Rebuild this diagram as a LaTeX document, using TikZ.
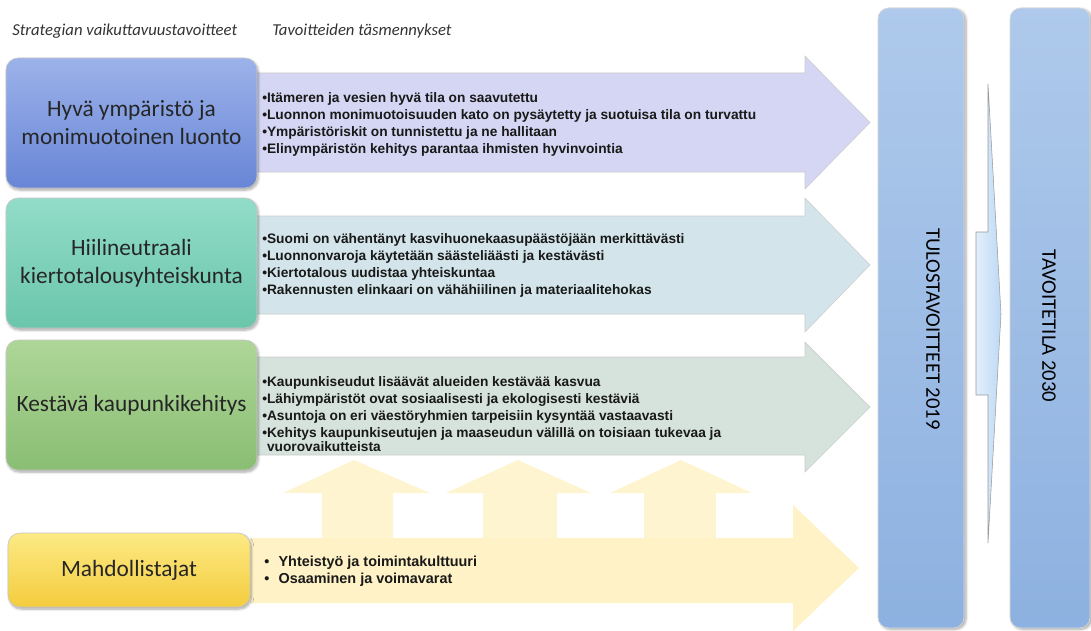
\documentclass[tikz,border=0pt]{standalone}
\usepackage{fontspec}
\setmainfont{Carlito}
\newfontfamily\bulletfont{Liberation Sans}
\usepackage{tikz}
\usetikzlibrary{shadows.blur}
\usetikzlibrary{positioning}

\definecolor{blueTop}{RGB}{156,178,234}
\definecolor{blueBot}{RGB}{104,134,214}
\definecolor{tealTop}{RGB}{146,220,200}
\definecolor{tealBot}{RGB}{106,198,170}
\definecolor{greenTop}{RGB}{174,214,152}
\definecolor{greenBot}{RGB}{138,190,116}
\definecolor{yellowTop}{RGB}{252,234,132}
\definecolor{yellowBot}{RGB}{244,204,62}
\definecolor{arrowBlue}{RGB}{213,214,243}
\definecolor{arrowTeal}{RGB}{211,229,234}
\definecolor{arrowGreen}{RGB}{214,226,220}
\definecolor{arrowYellow}{RGB}{254,242,198}
\definecolor{barTop}{RGB}{174,201,235}
\definecolor{barBot}{RGB}{141,177,224}
\definecolor{midTop}{RGB}{226,239,251}
\definecolor{midBot}{RGB}{190,217,244}

\begin{document}
\begin{tikzpicture}[x=0.75pt,y=0.75pt,yscale=-1,xscale=1,
  goalbox/.style={rounded corners=9pt, minimum width=188.25pt, minimum height=97.5pt,
    align=center, text=black!85, draw=black!22, line width=0.5pt,
    font=\fontsize{17.5}{21}\selectfont,
    blur shadow={shadow xshift=1pt, shadow yshift=-1.5pt, shadow blur steps=6, shadow opacity=35}},
  bigarrow/.style={draw=black!20, line width=0.4pt},
  bulletlist/.style={anchor=west, align=left, inner sep=0pt, text=black!90,
    font=\bulletfont\bfseries\fontsize{10.3}{12.75}\selectfont},
  headline/.style={anchor=west, inner sep=0pt, text=black!80,
    font=\itshape\fontsize{12.5}{15}\selectfont},
  resultbar/.style={rounded corners=8pt, draw=black!15, line width=0.5pt,
    top color=barTop, bottom color=barBot, minimum height=465pt,
    blur shadow={shadow xshift=1.5pt, shadow yshift=-1pt, shadow blur steps=5, shadow opacity=35}},
  bartext/.style={rotate=-90, inner sep=0pt, text=black,
    font=\fontsize{15.5}{18}\selectfont}
]
\useasboundingbox (0,0) rectangle (1091,631);

%Headings
\node[headline] (strategia) at (12,31) {Strategian vaikuttavuustavoitteet};
\node[headline] (tasmennys) at (272,31) {Tavoitteiden täsmennykset};

%Block arrows behind the boxes
\path[bigarrow, fill=arrowBlue] (250,73) -- (805,73) -- (805,56) -- (870,122.5) -- (805,189) -- (805,172) -- (250,172) -- cycle;
\path[bigarrow, fill=arrowTeal] (250,216) -- (805,216) -- (805,198) -- (870,265) -- (805,332) -- (805,314) -- (250,314) -- cycle;
\path[bigarrow, fill=arrowGreen] (250,357) -- (805,357) -- (805,342) -- (870,407) -- (805,472) -- (805,455) -- (250,455) -- cycle;

%Up arrows from the enablers
\fill[arrowYellow!85!white] (322,545) -- (322,493) -- (283,493) -- (354,460) -- (430,493) -- (393,493) -- (393,545) -- cycle;
\fill[arrowYellow!85!white] (483,545) -- (483,493) -- (446,493) -- (518,460) -- (591,493) -- (557,493) -- (557,545) -- cycle;
\fill[arrowYellow!85!white] (644,545) -- (644,493) -- (610,493) -- (681,460) -- (752,493) -- (716,493) -- (716,545) -- cycle;

%Enablers arrow
\path[fill=arrowYellow] (250,538) -- (793,538) -- (793,505) -- (859,568) -- (793,631) -- (793,603) -- (250,603) -- cycle;

%Goal boxes
\node[goalbox, top color=blueTop, bottom color=blueBot] (ymparisto) at (131.5,123) {Hyvä ympäristö ja\\monimuotoinen luonto};
\node[goalbox, top color=tealTop, bottom color=tealBot] (hiili) at (131.5,263) {Hiilineutraali\\kiertotalousyhteiskunta};
\node[goalbox, top color=greenTop, bottom color=greenBot] (kaupunki) at (131.5,405) {Kestävä kaupunkikehitys};
\node[goalbox, top color=yellowTop, bottom color=yellowBot, minimum width=181.5pt, minimum height=55.5pt] (mahdollistajat) at (129,570) {Mahdollistajat};

%Bullet lists
\node[bulletlist] (listaA) at (262,124.5) {•Itämeren ja vesien hyvä tila on saavutettu\\
•Luonnon monimuotoisuuden kato on pysäytetty ja suotuisa tila on turvattu\\
•Ympäristöriskit on tunnistettu ja ne hallitaan\\
•Elinympäristön kehitys parantaa ihmisten hyvinvointia};
\node[bulletlist] (listaB) at (262,265.5) {•Suomi on vähentänyt kasvihuonekaasupäästöjään merkittävästi\\
•Luonnonvaroja käytetään säästeliäästi ja kestävästi\\
•Kiertotalous uudistaa yhteiskuntaa\\
•Rakennusten elinkaari on vähähiilinen ja materiaalitehokas};
\node[bulletlist] (listaC) at (262,414) {•Kaupunkiseudut lisäävät alueiden kestävää kasvua\\
•Lähiympäristöt ovat sosiaalisesti ja ekologisesti kestäviä\\
•Asuntoja on eri väestöryhmien tarpeisiin kysyntää vastaavasti\\
•Kehitys kaupunkiseutujen ja maaseudun välillä on toisiaan tukevaa ja\\[-2.5pt]
\hphantom{•}vuorovaikutteista};
\node[bulletlist, font=\bulletfont\bfseries\fontsize{10.8}{12.75}\selectfont] (listaD) at (264,571.5) {•\hspace{7pt}Yhteistyö ja toimintakulttuuri\\
•\hspace{7pt}Osaaminen ja voimavarat};

%Result bars
\node[resultbar, minimum width=64.5pt] (tulosbar) at (921,318) {};
\node[resultbar, minimum width=60pt] (tilabar) at (1050,318) {};
\node[bartext] (tulos) at (933,329) {TULOSTAVOITTEET 2019};
\node[bartext] (tila) at (1049,326) {TAVOITETILA 2030};

%Thin arrow between the bars
\draw[draw=black!40, line width=0.4pt, left color=midTop, right color=midBot] (976,232) -- (988,232) -- (988,84) -- (1001,314) -- (988,543) -- (988,395) -- (976,395) -- cycle;

\end{tikzpicture}
\end{document}
